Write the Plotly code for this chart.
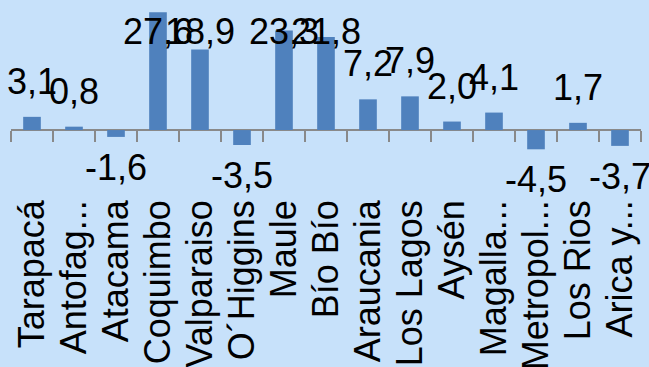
import plotly.graph_objects as go

categories = ["Tarapacá", "Antofag...", "Atacama", "Coquimbo", "Valparaiso",
              "O´Higgins", "Maule", "Bío Bío", "Araucania", "Los Lagos",
              "Aysén", "Magalla...", "Metropol...", "Los Rios", "Arica y..."]
values = [3.1, 0.8, -1.6, 27.6, 18.9, -3.5, 23.3, 21.8, 7.2, 7.9,
          2.0, 4.1, -4.5, 1.7, -3.7]
value_labels = [f"{v:.1f}".replace(".", ",") for v in values]

BG = "#C7E1FA"
BAR = "#4F81BD"
AXIS = "#898989"
FONT = "Liberation Sans, Arial, sans-serif"
Y_RANGE = [-14.5, 30]
LABEL_CAP = 14.8   # labels of tall bars are held inside the chart area

fig = go.Figure()
fig.add_trace(go.Bar(x=categories, y=values, marker=dict(color=BAR, line=dict(width=0)),
                     hoverinfo="skip", showlegend=False))
# helper trace for the tick-mark axis drawn at zero
fig.add_trace(go.Scatter(x=categories, y=[None] * len(categories), xaxis="x2",
                         mode="markers", hoverinfo="skip", showlegend=False))

annotations = []
for c, v, t in zip(categories, values, value_labels):
    if v >= 0:
        annotations.append(dict(x=c, y=min(v, LABEL_CAP), text=t, showarrow=False,
                                yanchor="bottom", yshift=13, xanchor="center",
                                font=dict(size=36, color="black", family=FONT)))
    else:
        annotations.append(dict(x=c, y=v, text=t, showarrow=False,
                                yanchor="top", yshift=-8, xanchor="center",
                                font=dict(size=36, color="black", family=FONT)))

zero_pos = (0 - Y_RANGE[0]) / (Y_RANGE[1] - Y_RANGE[0])

fig.update_layout(
    width=649, height=367,
    margin=dict(l=11, r=8, t=2, b=175),
    paper_bgcolor=BG, plot_bgcolor=BG,
    bargap=0.58,
    font=dict(family=FONT, color="black"),
    xaxis=dict(type="category", range=[-0.5, len(categories) - 0.5],
               tickmode="array", tickvals=categories, ticktext=categories,
               tickangle=-90, tickfont=dict(size=36, color="black", family=FONT),
               showline=False, ticks="", showgrid=False, zeroline=False,
               automargin=False),
    xaxis2=dict(type="category", overlaying="x", anchor="free", position=zero_pos,
                categoryorder="array", categoryarray=categories,
                range=[-0.5, len(categories) - 0.5],
                ticks="outside", tickson="boundaries", ticklen=11, tickwidth=2,
                tickcolor=AXIS, showticklabels=False, showline=False,
                showgrid=False, zeroline=False),
    yaxis=dict(range=Y_RANGE, showticklabels=False, ticks="", showgrid=False,
               zeroline=True, zerolinecolor=AXIS, zerolinewidth=2, showline=False,
               automargin=False),
    annotations=annotations,
)

fig.write_html("out.html")
